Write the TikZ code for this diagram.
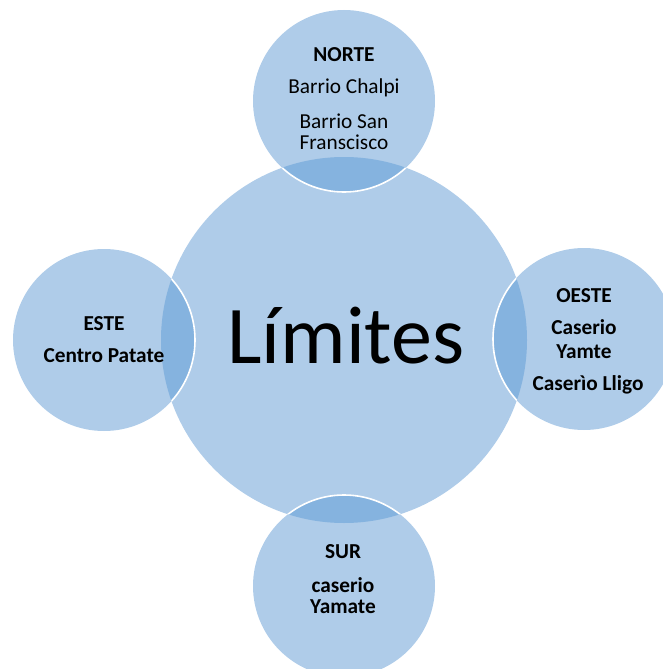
\documentclass[tikz,border=0pt]{standalone}
\usepackage{fontspec}
\setmainfont{Carlito}
\definecolor{lightblue}{HTML}{AFCCE9}
\definecolor{darkblue}{HTML}{85B3DF}
\begin{document}
\begin{tikzpicture}[x=1pt,y=-1pt,
  disc/.style={fill=lightblue},
  overlap/.style={fill=darkblue},
  rim/.style={draw=white,line width=1.6pt},
  lbl/.style={anchor=base,inner sep=0pt,font=\fontsize{21.3}{24}\selectfont},
  blbl/.style={lbl,font=\fontsize{21.3}{24}\selectfont\bfseries}]
\useasboundingbox (0,0) rectangle (663,669);
\clip (0,0) rectangle (663,669);
\coordinate (c) at (344,340);
\coordinate (n) at (344,101);
\coordinate (s) at (344,586);
\coordinate (w) at (104,340);
\coordinate (e) at (584,339);
\fill[disc] (c) circle (183pt);
\foreach \p in {n,s,w,e} { \fill[disc] (\p) circle (91pt); }
\begin{scope}
  \clip (c) circle (183pt);
  \foreach \p in {n,s,w,e} { \fill[overlap] (\p) circle (91pt); }
\end{scope}
\begin{scope}
  \clip (c) circle (183pt);
  \foreach \p in {n,s,w,e} { \draw[rim] (\p) circle (91pt); }
\end{scope}
\node[anchor=base,inner sep=0pt,font=\fontsize{82}{90}\selectfont] (title) at (346,363) {Límites};
% NORTE
\node[blbl] (n1) at (344,62) {NORTE};
\node[lbl] (n2) at (344,93) {Barrio Chalpi};
\node[lbl] (n3) at (344,128) {Barrio San};
\node[lbl] (n4) at (344,149) {Franscisco};
% ESTE
\node[blbl] (w1) at (104,330) {ESTE};
\node[blbl] (w2) at (104,362) {Centro Patate};
% OESTE
\node[blbl] (e1) at (584,302) {OESTE};
\node[blbl] (e2) at (584,334) {Caserio};
\node[blbl] (e3) at (584,358) {Yamte};
\node[blbl] (e4) at (588,390) {Caserìo Lligo};
% SUR
\node[blbl] (s1) at (343,558) {SUR};
\node[blbl] (s2) at (343,592) {caserio};
\node[blbl] (s3) at (343,613) {Yamate};
\end{tikzpicture}
\end{document}
